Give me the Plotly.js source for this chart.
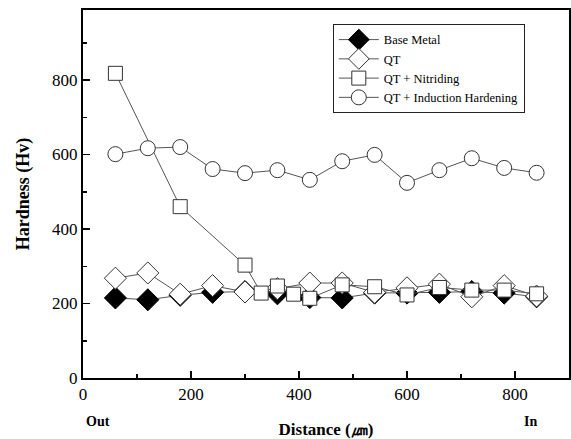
<!DOCTYPE html>
<html>
<head>
<meta charset="utf-8">
<script src="https://cdn.plot.ly/plotly-3.0.1.min.js"></script>
<style>html,body{margin:0;padding:0;background:#fff;}#chart{width:571px;height:439px;}</style>
</head>
<body>
<div id="chart"></div>
<script>
var xBase = [60,120,180,240,300,360,420,480,540,600,660,720,780,840];
var yBase = [215,210,222,230,232,226,216,215,228,228,230,232,228,218];
var xQT = [60,120,180,240,300,360,420,480,540,600,660,720,780,840];
var yQT = [268,282,225,248,231,240,255,255,230,242,252,218,248,220];
var xNit = [60,180,300,330,360,390,420,480,540,600,660,720,780,840];
var yNit = [818,460,303,228,247,225,214,250,245,223,243,236,236,226];
var xInd = [60,120,180,240,300,360,420,480,540,600,660,720,780,840];
var yInd = [601,617,620,561,550,558,532,582,599,524,558,590,564,551];
var names = ['Base Metal','QT','QT + Nitriding','QT + Induction Hardening'];
var xTickVals = [0,200,400,600,800];
var yTickVals = [0,200,400,600,800];

var lineStyle = {color:'#555555', width:1};
var traces = [
  {x:xBase, y:yBase, name:names[0], mode:'lines+markers', line:lineStyle,
   marker:{symbol:'diamond', size:17, color:'#000000', line:{color:'#000000', width:1}}},
  {x:xQT, y:yQT, name:names[1], mode:'lines+markers', line:lineStyle,
   marker:{symbol:'diamond', size:17, color:'#ffffff', line:{color:'#333333', width:1}}},
  {x:xNit, y:yNit, name:names[2], mode:'lines+markers', line:lineStyle,
   marker:{symbol:'square', size:14, color:'#ffffff', line:{color:'#333333', width:1}}},
  {x:xInd, y:yInd, name:names[3], mode:'lines+markers', line:lineStyle,
   marker:{symbol:'circle', size:15, color:'#ffffff', line:{color:'#333333', width:1}}}
];

var serif = '"Liberation Serif", "Times New Roman", serif';
var layout = {
  width:571, height:439,
  margin:{l:83, r:2, t:10, b:61},
  paper_bgcolor:'#ffffff', plot_bgcolor:'#ffffff',
  showlegend:true,
  legend:{x:0.514, y:0.962, xanchor:'left', yanchor:'top', bgcolor:'#ffffff',
          bordercolor:'#222222', borderwidth:1, font:{family:serif, size:12.5, color:'#000'},
          tracegroupgap:0, itemwidth:40},
  xaxis:{range:[0,900], tickvals:xTickVals, ticks:'inside', ticklen:7, tickwidth:1.5, tickcolor:'#000',
         minor:{dtick:100, ticks:'inside', ticklen:4, tickwidth:1.5, tickcolor:'#000'},
         showline:true, linecolor:'#000', linewidth:2, mirror:true, showgrid:false, zeroline:false,
         tickfont:{family:serif, size:17, color:'#000'},
         title:{text:'<b>Distance (㎛)</b>', font:{family:serif, size:17, color:'#000'}, standoff:24}},
  yaxis:{range:[0,988], tickvals:yTickVals, ticks:'inside', ticklen:7, tickwidth:1.5, tickcolor:'#000',
         minor:{dtick:100, ticks:'inside', ticklen:4, tickwidth:1.5, tickcolor:'#000'},
         showline:true, linecolor:'#000', linewidth:2, mirror:true, showgrid:false, zeroline:false,
         tickfont:{family:serif, size:17, color:'#000'},
         title:{text:'<b>Hardness (Hv)</b>', font:{family:serif, size:18, color:'#000'}, standoff:18}},
  annotations:[
    {text:'<b>Out</b>', xref:'paper', yref:'paper', x:0.03, y:-0.118, xanchor:'center', yanchor:'middle', showarrow:false,
     font:{family:serif, size:14, color:'#000'}},
    {text:'<b>In</b>', xref:'paper', yref:'paper', x:0.92, y:-0.118, xanchor:'center', yanchor:'middle', showarrow:false,
     font:{family:serif, size:14, color:'#000'}}
  ]
};
Plotly.newPlot('chart', traces, layout, {displayModeBar:false, staticPlot:true});
</script>
</body>
</html>
